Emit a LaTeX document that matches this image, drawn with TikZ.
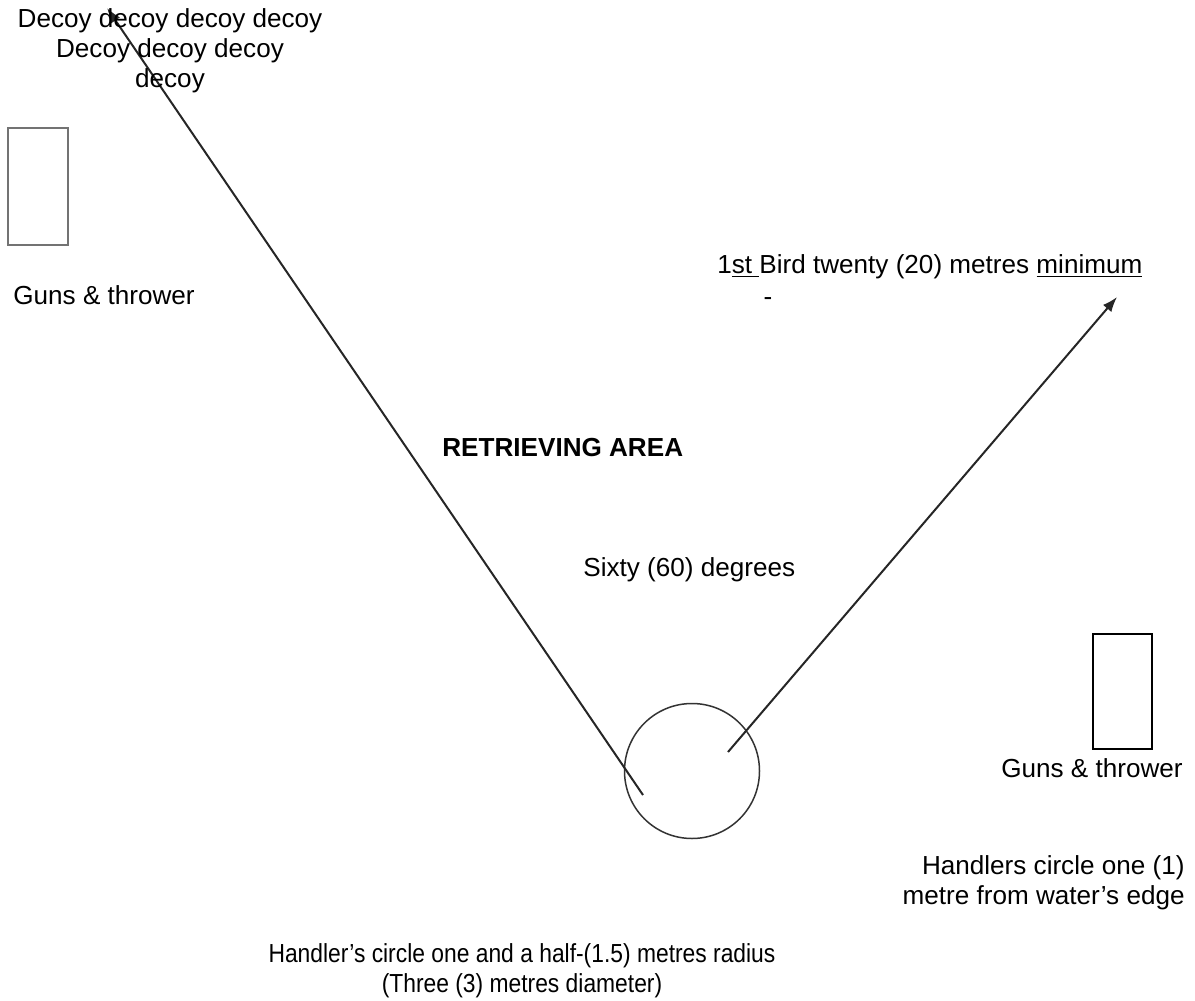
\documentclass[tikz,border=0pt]{standalone}
\usepackage{fontspec}
\setmainfont{Liberation Sans}
\usetikzlibrary{arrows.meta}

\begin{document}
\begin{tikzpicture}[x=0.5pt, y=-0.5pt,
	lbl/.style={font=\fontsize{13.05}{15}\selectfont, inner sep=0pt},
	run/.style={line width=1pt, draw=black!85, -{Latex[length=7.5pt,width=5.5pt]}}]
	\useasboundingbox (0,0) rectangle (1195,1001);
	\coordinate (handler) at (692,771);
	\coordinate (leftstart) at (643,795);
	\coordinate (decoyend) at (107,8);
	\coordinate (rightstart) at (728,752);
	\coordinate (birdend) at (1117,297);
	\draw[line width=0.75pt, draw=black!80] (handler) circle (67.5);
	\draw[line width=0.9pt, draw=black!55] (8,128) rectangle (68,245);
	\draw[line width=0.75pt] (1093,634) rectangle (1152,749);
	\draw[run] (leftstart) -- (decoyend);
	\draw[run] (rightstart) -- (birdend);
	\node[lbl, align=center] (decoy) at (170,51) {Decoy decoy decoy decoy\\Decoy decoy decoy\\decoy};
	\node[lbl, anchor=base west] (gunsleft) at (13,304) {Guns \& thrower};
	\node[lbl, anchor=base west] (bird) at (717,273) {1\underline{st\ }Bird twenty (20) metres \underline{minimum}};
	\node[lbl, anchor=base] (dash) at (768,305) {-};
	\node[lbl, anchor=base west, font=\fontsize{13.05}{15}\selectfont\bfseries] (area) at (442,456) {RETRIEVING AREA};
	\node[lbl, anchor=base west] (sixty) at (583,576) {Sixty (60) degrees};
	\node[lbl, anchor=base east] (gunsright) at (1183,777) {Guns \& thrower};
	\node[lbl, align=right, anchor=north east] (edge) at (1185,855) {Handlers circle one (1)\\metre from water’s edge};
	\node[lbl, align=center, anchor=north, font=\fontsize{13.05}{15}\selectfont\addfontfeature{FakeStretch=0.875}] (radius) at (522,943) {Handler’s circle one and a half-(1.5) metres radius\\(Three (3) metres diameter)};
\end{tikzpicture}
\end{document}
